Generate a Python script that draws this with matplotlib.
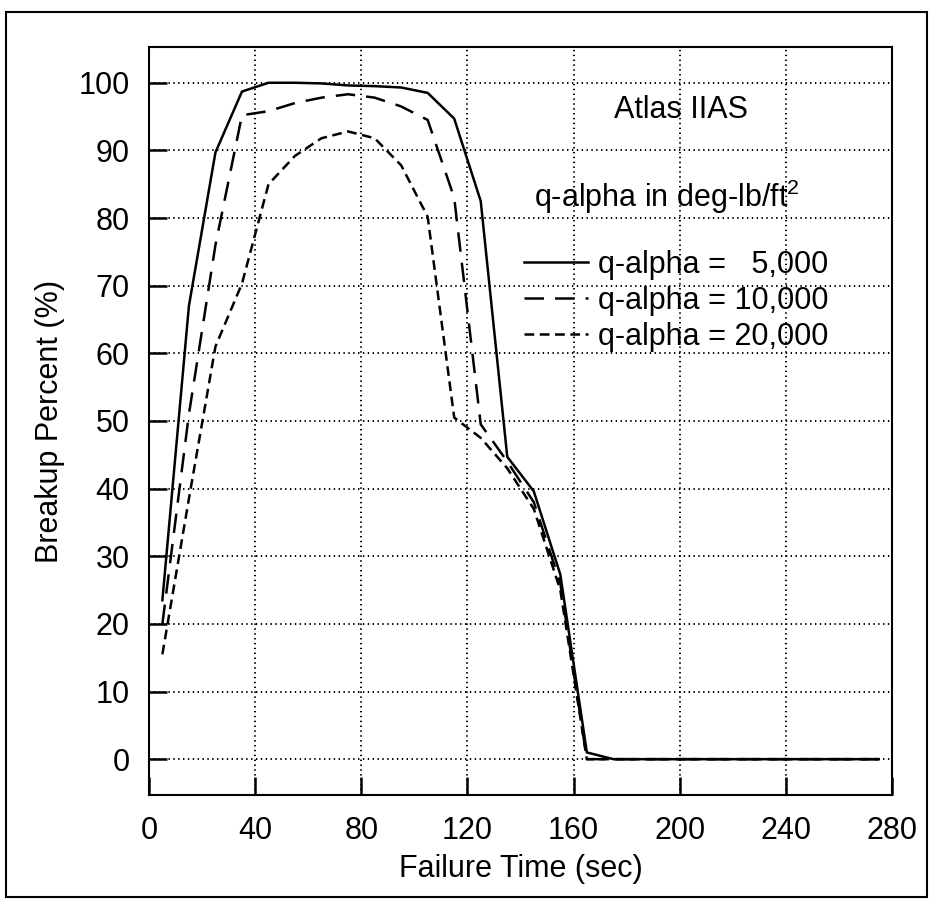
import matplotlib
matplotlib.use("Agg")
import matplotlib.pyplot as plt
from matplotlib.lines import Line2D
from matplotlib.patches import Rectangle

plt.rcParams["font.family"] = ["Liberation Sans", "DejaVu Sans"]
plt.rcParams["mathtext.fontset"] = "custom"
plt.rcParams["mathtext.rm"] = "Liberation Sans"
plt.rcParams["lines.scale_dashes"] = False

# failure time (sec), one point every 10 s
fail_time = [5, 15, 25, 35, 45, 55, 65, 75, 85, 95, 105, 115, 125, 135,
             145, 155, 165, 175, 185, 195, 205, 215, 225, 235, 245, 255,
             265, 275]

# breakup percent for each q-alpha case
qa_5000 = [23.5, 67.0, 89.7, 98.7, 100.0, 100.0, 99.9, 99.6, 99.5, 99.3,
           98.5, 94.7, 82.5, 44.7, 39.6, 27.3, 1.0, 0, 0, 0, 0, 0, 0, 0,
           0, 0, 0, 0]
qa_10000 = [20.0, 51.0, 76.0, 95.2, 95.8, 97.0, 97.8, 98.3, 97.8, 96.5,
            94.5, 83.0, 49.5, 44.0, 38.0, 26.0, 0, 0, 0, 0, 0, 0, 0, 0,
            0, 0, 0, 0]
qa_20000 = [15.5, 38.5, 61.0, 70.3, 85.0, 89.2, 91.8, 92.8, 91.8, 87.8,
            80.2, 50.5, 47.5, 43.0, 37.0, 25.0, 0, 0, 0, 0, 0, 0, 0, 0,
            0, 0, 0, 0]

labels = ["q-alpha =   5,000", "q-alpha = 10,000", "q-alpha = 20,000"]
x_ticks = [0, 40, 80, 120, 160, 200, 240, 280]
y_ticks = [0, 10, 20, 30, 40, 50, 60, 70, 80, 90, 100]

fig = plt.figure(figsize=(9.32, 9.02), dpi=100)
ax = fig.add_axes([0.160, 0.1186, 0.797, 0.8294])

# outer frame around the whole figure
fig.patches.append(Rectangle((0.006, 0.005), 0.989, 0.982, transform=fig.transFigure,
                             fill=False, lw=1.5, ec="black"))

lw = 1.8
styles = ["-", (0, (14, 8)), (0, (7, 4))]
for y, ls, lab in zip([qa_5000, qa_10000, qa_20000], styles, labels):
    ax.plot(fail_time, y, color="black", lw=lw, ls=ls, label=lab)

ax.set_xlim(0, 280)
ax.set_ylim(-5.3, 105.3)
ax.set_xticks(x_ticks)
ax.set_yticks(y_ticks)
ax.grid(True, color="black", ls=(0, (1, 2.5)), lw=1.4)
ax.tick_params(direction="in", length=13, width=1.8, labelsize=22)
ax.tick_params(axis="x", pad=15)
ax.tick_params(axis="y", pad=14)
for s in ax.spines.values():
    s.set_linewidth(1.5)

ax.set_xlabel("Failure Time (sec)", fontsize=22, labelpad=6)
ax.set_ylabel("Breakup Percent (%)", fontsize=22, labelpad=10)

ax.text(0.716, 0.915, "Atlas IIAS", transform=ax.transAxes, fontsize=22,
        ha="center", va="center")
ax.text(0.518, 0.800, "q-alpha in deg-lb/ft$^2$", transform=ax.transAxes,
        fontsize=22, ha="left", va="center")

handles = [Line2D([], [], color="black", lw=lw, ls=ls) for ls in styles]
ax.legend(handles, labels, loc="upper left", bbox_to_anchor=(0.505, 0.729),
          frameon=False, fontsize=22, handlelength=2.1, handletextpad=0.3,
          labelspacing=0.2, borderpad=0, borderaxespad=0)

fig.savefig("out.png", dpi=100)
